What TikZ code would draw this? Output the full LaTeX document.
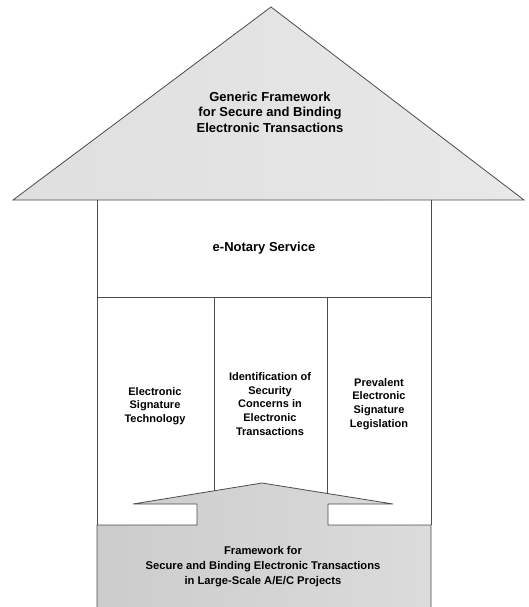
\documentclass[tikz,border=0pt]{standalone}
\usepackage{fontspec}
\setmainfont{Liberation Sans}
\usetikzlibrary{positioning}

\begin{document}
\begin{tikzpicture}[
  x=1pt, y=-1pt,
  every node/.style={align=center, text=black},
  bigtext/.style={font=\bfseries\fontsize{13}{15.5}\selectfont},
  coltext/.style={font=\bfseries\fontsize{11}{13.8}\selectfont},
  basetext/.style={font=\bfseries\fontsize{11.2}{15}\selectfont},
  wall/.style={draw=black!70, line width=0.8pt}
]
\useasboundingbox (0,0) rectangle (528,607);

% Roof
\draw[wall, left color=gray!25, middle color=gray!48, right color=gray!18]
  (13,200) -- (271,7) -- (524,200) -- cycle;
\node[bigtext] (roof) at (270,112) {Generic Framework\\for Secure and Binding\\Electronic Transactions};

% House walls
\draw[wall] (97,200) -- (97,525);
\draw[wall] (431,200) -- (431,525);
\draw[wall] (97,297) -- (431,297);
\draw[wall] (214,297) -- (214,500);
\draw[wall] (327,297) -- (327,500);
\node[bigtext] (notary) at (264,248) {e-Notary Service};

% Pillars
\node[coltext] (sigtech) at (155,406) {Electronic\\Signature\\Technology};
\node[coltext] (secid) at (270,404) {Identification of\\Security\\Concerns in\\Electronic\\Transactions};
\node[coltext] (sigleg) at (379,404) {Prevalent\\Electronic\\Signature\\Legislation};

% Base with arrow
\draw[wall, left color=gray!40, right color=gray!28]
  (97,607) -- (97,525) -- (197,525) -- (197,504) -- (133,504) -- (262,483)
  -- (393,504) -- (328,504) -- (328,525) -- (431,525) -- (431,607);
\node[basetext] (base) at (263,567) {Framework for\\Secure and Binding Electronic Transactions\\in Large-Scale A/E/C Projects};

\end{tikzpicture}
\end{document}
